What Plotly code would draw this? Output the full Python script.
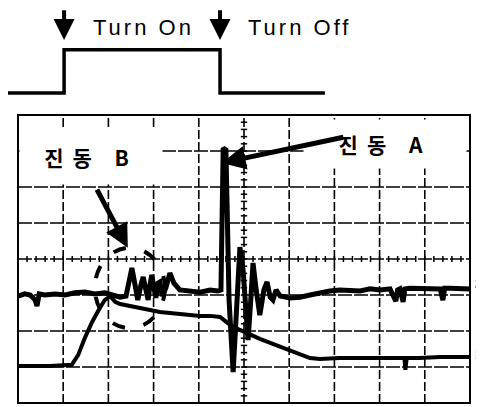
import numpy as np
import plotly.graph_objects as go

# ---- data (screen divisions: 10 horizontal, 8 vertical) ----
ch2_t = [0, 0.15, 0.27, 0.38, 0.42, 0.47, 0.6, 0.82, 1.04, 1.26, 1.48, 1.7, 1.92, 2.08, 2.26, 2.39,
         2.48, 2.52, 2.59, 2.65, 2.72, 2.77, 2.83, 2.88, 2.92, 2.96, 3.01, 3.05, 3.1, 3.14, 3.19, 3.27,
         3.36, 3.45, 3.58, 3.81, 4.03, 4.25, 4.42, 4.49, 4.54, 4.6, 4.67, 4.76, 4.82, 4.91, 4.98, 5.09,
         5.15, 5.2, 5.27, 5.35, 5.44, 5.51, 5.58, 5.64, 5.71, 5.8, 6.02, 6.24, 6.46, 6.68, 6.9, 7.12,
         7.35, 7.57, 7.79, 8.01, 8.23, 8.36, 8.4, 8.45, 8.52, 8.56, 8.67, 8.89, 9.12, 9.34, 9.4, 9.44,
         9.56, 9.78, 10.0]
ch2_v = [2.97, 3.03, 3.0, 2.86, 2.69, 3.03, 3.0, 3.03, 3.0, 3.06, 3.08, 3.03, 3.06, 3.0, 2.94, 2.97,
         3.42, 3.75, 3.28, 2.86, 3.28, 3.5, 3.14, 2.86, 3.28, 3.56, 3.19, 2.92, 3.33, 3.36, 2.97, 3.19,
         3.61, 3.33, 3.14, 3.11, 3.08, 3.14, 3.11, 3.14, 7.08, 7.03, 2.86, 0.86, 2.31, 4.33, 3.69, 1.75,
         2.86, 3.89, 3.14, 2.44, 3.14, 3.36, 2.94, 2.86, 3.14, 2.97, 2.92, 2.94, 3.0, 3.06, 3.11, 3.14,
         3.14, 3.11, 3.17, 3.14, 3.17, 2.83, 3.14, 3.17, 2.81, 3.17, 3.19, 3.19, 3.17, 3.17, 2.86, 3.19,
         3.19, 3.17, 3.17]

ch1_t = [0, 0.71, 1.19, 1.33, 1.48, 1.64, 1.81, 1.92, 2.04, 2.15, 2.26, 2.48, 2.7, 2.92, 3.14, 3.36,
         3.58, 3.81, 4.03, 4.25, 4.47, 4.58, 4.69, 4.91, 5.13, 5.35, 5.58, 5.8, 6.02, 6.24, 6.46, 6.68,
         7.12, 7.57, 8.01, 8.45, 8.55, 8.57, 8.6, 8.89, 9.34, 10.0]
ch1_v = [1.03, 1.03, 1.06, 1.33, 1.81, 2.25, 2.64, 2.86, 2.97, 2.81, 2.75, 2.69, 2.64, 2.58, 2.53, 2.5,
         2.47, 2.44, 2.42, 2.42, 2.39, 2.28, 2.17, 2.03, 1.89, 1.78, 1.67, 1.56, 1.44, 1.33, 1.25, 1.22,
         1.25, 1.25, 1.25, 1.25, 1.25, 0.92, 1.25, 1.25, 1.28, 1.28]

gate_t = [-0.24, 1.02, 1.02, 4.47, 4.47, 6.79]
gate_state = [0, 0, 1, 1, 0, 0]
event_names = ["Turn On", "Turn Off"]
event_t = [1.02, 4.47]
vib_labels = ["진동 A", "진동 B"]
channel_names = ["1", "2"]

N_X, N_Y = 10, 8
GATE_LOW, GATE_AMP = 8.61, 1.2

fig = go.Figure()

# ---- graticule ticks on centre axes ----
tx, ty = [], []
for v in np.arange(0, N_X + 1e-9, 0.2):
    tx += [v, v, None]
    ty += [N_Y / 2 - 0.085, N_Y / 2 + 0.085, None]
for v in np.arange(0, N_Y + 1e-9, 0.2):
    tx += [N_X / 2 - 0.07, N_X / 2 + 0.07, None]
    ty += [v, v, None]
fig.add_trace(go.Scatter(x=tx, y=ty, mode="lines", line=dict(color="black", width=1.5),
                         hoverinfo="skip"))

# ---- traces ----
fig.add_trace(go.Scatter(x=ch1_t, y=ch1_v, mode="lines", line=dict(color="black", width=4)))
fig.add_trace(go.Scatter(x=ch2_t, y=ch2_v, mode="lines", line=dict(color="black", width=5)))
fig.add_trace(go.Scatter(x=gate_t, y=[GATE_LOW + GATE_AMP * s for s in gate_state], mode="lines",
                         line=dict(color="black", width=3.5)))

# ---- grid ----
shapes = []
for i in range(1, N_X):
    shapes.append(dict(type="line", x0=i, x1=i, y0=0, y1=N_Y, layer="below",
                       line=dict(color="black", width=1.6, dash="9px,3px")))
for j in range(1, N_Y):
    shapes.append(dict(type="line", x0=0, x1=N_X, y0=j, y1=j, layer="below",
                       line=dict(color="black", width=1.6, dash="14px,2px")))
shapes.append(dict(type="rect", x0=0, x1=N_X, y0=0, y1=N_Y, layer="below",
                   line=dict(color="black", width=2)))
# dashed hand-drawn ellipse around vibration B
shapes.append(dict(type="circle", x0=1.70, x1=3.25, y0=2.08, y1=4.31,
                   line=dict(color="black", width=4, dash="13px,19px")))

ann = []
sp = '<span style="letter-spacing:3px">{}</span>'
efont = dict(family="Liberation Sans, Arial", size=22, color="black")
ann.append(dict(x=event_t[0] + 0.6, y=10.42, text=sp.format(event_names[0]), showarrow=False,
                xanchor="left", font=efont))
ann.append(dict(x=event_t[1] + 0.58, y=10.42, text=sp.format(event_names[1]), showarrow=False,
                xanchor="left", font=efont))
for t in event_t:
    ann.append(dict(x=t, y=10.08, ax=t, ay=10.95, xref="x", yref="y", axref="x", ayref="y",
                    text="", showarrow=True, arrowhead=2, arrowwidth=4, arrowsize=1.05,
                    arrowcolor="black", standoff=0))

kp = '<span style="letter-spacing:9px">{}</span>'
kfont = dict(family="Noto Sans CJK KR", size=21, color="black", weight="bold")
ann.append(dict(x=8.12, y=7.19, text=kp.format(vib_labels[0]), showarrow=False, bgcolor="white",
                width=160, height=46, font=kfont))
ann.append(dict(x=1.62, y=6.83, text=kp.format(vib_labels[1]), showarrow=False, bgcolor="white",
                width=140, height=52, font=kfont))
# arrows
ann.append(dict(x=4.51, y=6.67, ax=7.23, ay=7.39, xref="x", yref="y", axref="x", ayref="y",
                text="", showarrow=True, arrowhead=2, arrowwidth=5, arrowsize=0.95,
                arrowcolor="black", standoff=0))
ann.append(dict(x=2.43, y=4.31, ax=1.73, ay=5.97, xref="x", yref="y", axref="x", ayref="y",
                text="", showarrow=True, arrowhead=2, arrowwidth=5, arrowsize=0.95,
                arrowcolor="black", standoff=0))
# channel markers
ann.append(dict(x=10.06, y=1.36, text="<b>" + channel_names[0] + "</b>", showarrow=False,
                xanchor="left", font=dict(family="Liberation Sans, Arial", size=13, color="black")))
ann.append(dict(x=10.06, y=3.31, text="<b>" + channel_names[1] + "</b>", showarrow=False,
                xanchor="left", font=dict(family="Liberation Sans, Arial", size=13, color="black")))

# the page body adds an 8px offset, so the figure is 8px smaller and ranges compensate
fig.update_layout(
    width=476, height=399, margin=dict(l=0, r=0, t=0, b=0),
    paper_bgcolor="white", plot_bgcolor="white", showlegend=False,
    xaxis=dict(range=[-0.221, 10.310], visible=False, fixedrange=True),
    yaxis=dict(range=[-0.111, 10.972], visible=False, fixedrange=True),
    shapes=shapes, annotations=ann,
)
fig.write_html("out.html")
